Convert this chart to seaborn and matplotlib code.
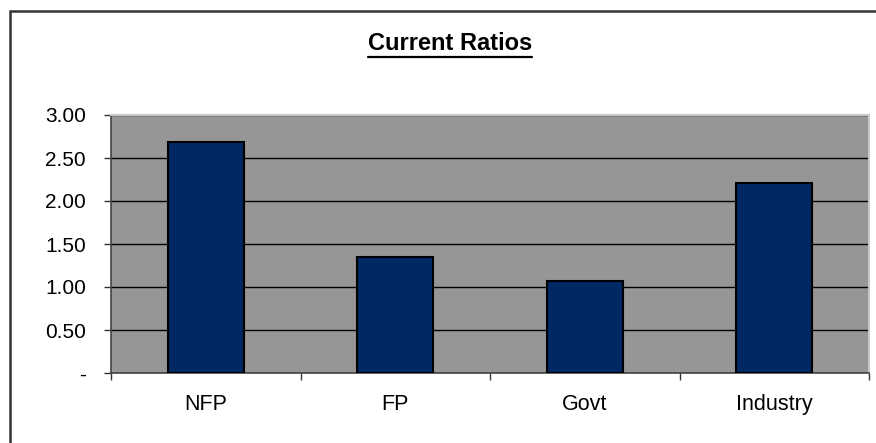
import matplotlib
matplotlib.use("Agg")
import matplotlib.pyplot as plt
import seaborn as sns
import pandas as pd
from matplotlib.patches import Rectangle

categories = ["NFP", "FP", "Govt", "Industry"]
values = [2.69, 1.35, 1.07, 2.21]
ytick_vals = [0, 0.5, 1.0, 1.5, 2.0, 2.5, 3.0]
ytick_labels = ["-", "0.50", "1.00", "1.50", "2.00", "2.50", "3.00"]

sns.set_theme(style="white")
plt.rcParams["font.family"] = ["Liberation Sans", "DejaVu Sans"]

df = pd.DataFrame({"cat": categories, "val": values})

W, H = 876, 443
fig = plt.figure(figsize=(W/100, H/100), dpi=100)
ax = fig.add_axes([111/W, 1-373/H, (869-111)/W, (373-115)/H])
ax.set_facecolor("#969696")

sns.barplot(data=df, x="cat", y="val", color="#002864", edgecolor="black",
            linewidth=1.5, width=0.40, saturation=1, ax=ax, zorder=3)

ax.set_ylim(0, 3.0)
ax.set_xlim(-0.5, 3.5)
ax.set_yticks(ytick_vals)
ax.set_yticklabels(ytick_labels, fontsize=15, color="black")
ax.yaxis.grid(True, color="black", linewidth=1.0, zorder=0)
ax.set_axisbelow(True)

ax.set_xticks(range(len(categories)))
ax.set_xticklabels(categories, fontsize=15.5, color="black")
ax.set_xticks([-0.5, 0.5, 1.5, 2.5, 3.5], minor=True)
ax.tick_params(axis="x", which="major", length=0, pad=15)
ax.tick_params(axis="x", which="minor", length=5, width=1, color="#333333", direction="out", bottom=True)
ax.tick_params(axis="y", which="major", length=5, width=1, color="#333333", direction="out", left=True, pad=13)

ax.set_xlabel("")
ax.set_ylabel("")

for s in ["top", "right"]:
    ax.spines[s].set_color("#c8c8c8")
    ax.spines[s].set_linewidth(1.5)
for s in ["left", "bottom"]:
    ax.spines[s].set_color("#444444")
    ax.spines[s].set_linewidth(1.2)

title = fig.text(450/W, 1-50/H, "Current Ratios", ha="center", va="baseline",
                 fontsize=17, fontweight="bold", color="black")
fig.canvas.draw()
bb = title.get_window_extent(renderer=fig.canvas.get_renderer())
x0, x1 = bb.x0 / W, bb.x1 / W
fig.add_artist(plt.Line2D([x0, x1], [1-57/H, 1-57/H], color="black", linewidth=1.6))

fig.add_artist(Rectangle((9.5/W, -0.2), 1.2, 1 - 11/H + 0.2, transform=fig.transFigure,
                         fill=False, edgecolor="#333333", linewidth=1.8))

fig.savefig("out.png", dpi=100)
